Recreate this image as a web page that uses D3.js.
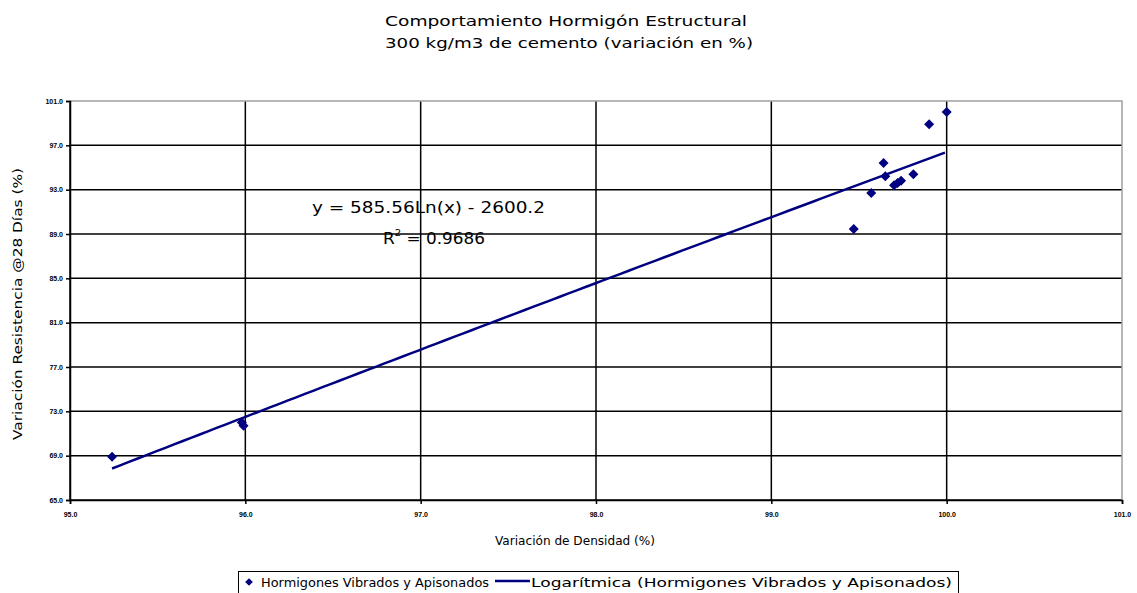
<!DOCTYPE html>
<html>
<head>
<meta charset="utf-8">
<script src="https://cdn.jsdelivr.net/npm/d3@7"></script>
<style>
  body { margin: 0; background: #fff; }
  svg { display: block; font-family: "DejaVu Sans", "Liberation Sans", Arial, sans-serif; }
</style>
</head>
<body>
<svg id="chart" width="1137" height="593"></svg>
<script>
// Data
const titleLines = ["Comportamiento Hormigón Estructural", "300 kg/m3 de cemento (variación en %)"];
const densidad = [95.24, 95.98, 95.99, 99.47, 99.57, 99.64, 99.65, 99.70, 99.72, 99.74, 99.81, 99.90, 100.0];
const resistencia = [68.9, 72.0, 71.7, 89.45, 92.7, 95.4, 94.2, 93.4, 93.6, 93.8, 94.4, 98.9, 100.0];
const xTicks = [95, 96, 97, 98, 99, 100, 101];
const yTicks = [65, 69, 73, 77, 81, 85, 89, 93, 97, 101];
const trendA = 585.56;
const trendB = -2600.2;
const eqText = "y = 585.56Ln(x) - 2600.2";
const r2Value = "0.9686";
const seriesName = "Hormigones Vibrados y Apisonados";
const trendName = "Logarítmica (Hormigones Vibrados y Apisonados)";

const points = densidad.map((d, i) => ({ x: d, y: resistencia[i] }));

const svg = d3.select("#chart");
const plot = { left: 70, right: 1122, top: 101, bottom: 500 };
const navy = "#000080";

const x = d3.scaleLinear().domain([95, 101]).range([plot.left, plot.right]);
const y = d3.scaleLinear().domain([65, 101]).range([plot.bottom, plot.top]);

// stretched text helper, the reference font is wide
function wideText(sel, len) {
  return sel.attr("textLength", len).attr("lengthAdjust", "spacingAndGlyphs");
}

// Title
svg.append("g")
  .selectAll("text")
  .data(titleLines)
  .enter()
  .append("text")
  .attr("x", 385)
  .attr("y", (d, i) => 26 + i * 22)
  .attr("font-size", 14)
  .attr("textLength", (d, i) => (i === 0 ? 362 : 368))
  .attr("lengthAdjust", "spacingAndGlyphs")
  .attr("fill", "#000")
  .text((d) => d);

// Gridlines
svg.append("g")
  .selectAll("line")
  .data(yTicks.slice(0, -1))
  .enter()
  .append("line")
  .attr("x1", plot.left)
  .attr("x2", plot.right)
  .attr("y1", (d) => y(d))
  .attr("y2", (d) => y(d))
  .attr("stroke", "#000")
  .attr("stroke-width", 1.5);

svg.append("g")
  .selectAll("line")
  .data(xTicks.slice(0, -1))
  .enter()
  .append("line")
  .attr("x1", (d) => x(d))
  .attr("x2", (d) => x(d))
  .attr("y1", plot.top)
  .attr("y2", plot.bottom)
  .attr("stroke", "#000")
  .attr("stroke-width", 1.5);

// Top and right border (grey)
svg.append("path")
  .attr("d", `M${plot.left},${plot.top}H${plot.right}V${plot.bottom}`)
  .attr("fill", "none")
  .attr("stroke", "#a0a0a0")
  .attr("stroke-width", 1.5);

// Axes
const xAxis = svg.append("g")
  .attr("transform", `translate(0,${plot.bottom})`)
  .call(d3.axisBottom(x).tickValues(xTicks).tickSize(4).tickFormat(d3.format(".1f")));
const yAxis = svg.append("g")
  .attr("transform", `translate(${plot.left},0)`)
  .call(d3.axisLeft(y).tickValues(yTicks).tickSize(4).tickFormat(d3.format(".1f")));

[xAxis, yAxis].forEach((g) => {
  g.select(".domain").attr("stroke", "#000").attr("stroke-width", 1.5);
  g.selectAll(".tick line").attr("stroke", "#000").attr("stroke-width", 1.5);
  g.selectAll("text")
    .attr("font-family", "Liberation Sans, Arial, sans-serif")
    .attr("font-size", 7)
    .attr("font-weight", "bold")
    .attr("fill", "#000");
});
xAxis.selectAll("text").attr("dy", "1.4em");

// Axis titles
wideText(svg.append("text")
  .attr("x", 495)
  .attr("y", 545)
  .attr("font-size", 12), 160)
  .text("Variación de Densidad (%)");

wideText(svg.append("text")
  .attr("transform", "translate(22,440) rotate(-90)")
  .attr("font-size", 12), 272)
  .text("Variación Resistencia @28 Días (%)");

// Trendline
const xs = d3.range(d3.min(densidad), d3.max(densidad) + 0.001, 0.05);
const line = d3.line()
  .x((d) => x(d))
  .y((d) => y(trendA * Math.log(d) + trendB));
svg.append("path")
  .datum(xs)
  .attr("d", line)
  .attr("fill", "none")
  .attr("stroke", navy)
  .attr("stroke-width", 2.5);

// Points (square rotated 45 degrees)
const diamond = d3.symbol().type(d3.symbolSquare).size(50);
svg.append("g")
  .selectAll("path")
  .data(points)
  .enter()
  .append("path")
  .attr("d", diamond)
  .attr("transform", (d) => `translate(${x(d.x)},${y(d.y)}) rotate(45)`)
  .attr("fill", navy);

// Equation
wideText(svg.append("text")
  .attr("x", 312)
  .attr("y", 213)
  .attr("font-size", 15), 233)
  .text(eqText);

const r2 = wideText(svg.append("text")
  .attr("x", 383)
  .attr("y", 244)
  .attr("font-size", 15), 102);
r2.append("tspan").text("R");
r2.append("tspan").attr("font-size", 9).attr("dy", -8).text("2");
r2.append("tspan").attr("dy", 8).text(" = " + r2Value);

// Legend
const legend = svg.append("g");
legend.append("rect")
  .attr("x", 238.5)
  .attr("y", 571.5)
  .attr("width", 720)
  .attr("height", 22)
  .attr("fill", "#fff")
  .attr("stroke", "#000")
  .attr("stroke-width", 1);
legend.append("path")
  .attr("d", d3.symbol().type(d3.symbolSquare).size(30)())
  .attr("transform", "translate(249,582) rotate(45)")
  .attr("fill", navy);
wideText(legend.append("text")
  .attr("x", 261)
  .attr("y", 587)
  .attr("font-size", 12), 228)
  .text(seriesName);
legend.append("line")
  .attr("x1", 495)
  .attr("x2", 530)
  .attr("y1", 581)
  .attr("y2", 581)
  .attr("stroke", navy)
  .attr("stroke-width", 2.5);
wideText(legend.append("text")
  .attr("x", 531)
  .attr("y", 587)
  .attr("font-size", 12), 421)
  .text(trendName);
</script>
</body>
</html>
